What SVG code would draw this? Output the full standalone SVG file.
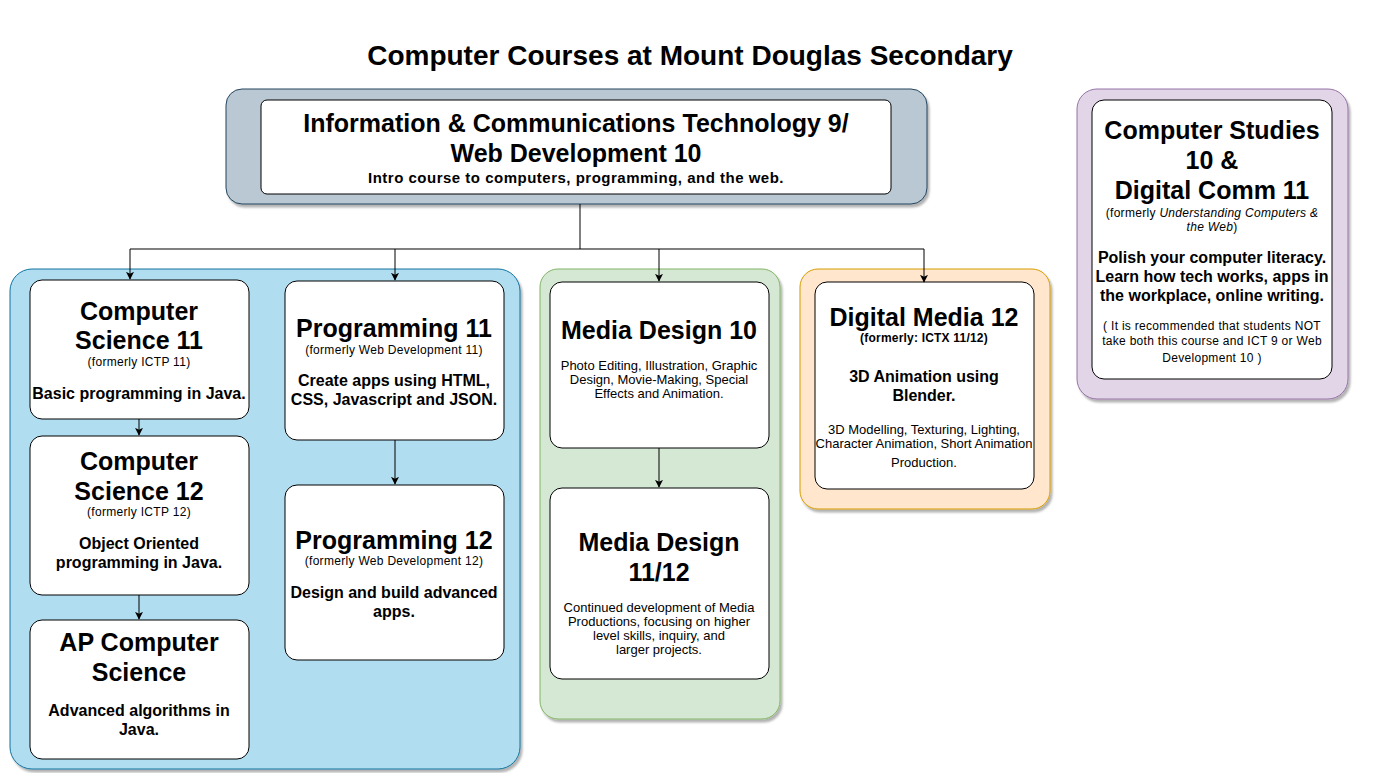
<svg xmlns="http://www.w3.org/2000/svg" width="1381" height="773" viewBox="0 0 1381 773">
<defs>
<filter id="sh" x="-5%" y="-5%" width="115%" height="115%"><feDropShadow dx="2" dy="3" stdDeviation="1.2" flood-color="#000" flood-opacity="0.3"/></filter>
<marker id="arr" viewBox="0 0 10 10" refX="9" refY="5" markerWidth="8" markerHeight="8" markerUnits="userSpaceOnUse" orient="auto"><path d="M0,0 L10,5 L0,10 L2.5,5 Z" fill="#000"/></marker>
</defs>
<style>
text{font-family:"Liberation Sans",Arial,sans-serif;fill:#000;text-anchor:middle}
.h{font-size:25px;font-weight:bold}
.t{font-size:28px;font-weight:bold}
.f{font-size:12px;letter-spacing:0.3px}
.fb{font-size:12px;font-weight:bold;letter-spacing:0.2px}
.d{font-size:16px;font-weight:bold}
.s{font-size:13px}
.c{fill:#fff;stroke:#000;stroke-width:1}
.conn{fill:none;stroke:#000;stroke-width:1}
</style>
<rect width="1381" height="773" fill="#fff"/>
<text class="t" x="690" y="65">Computer Courses at Mount Douglas Secondary</text>

<g id="ict">
<rect x="226" y="89" width="701" height="115" rx="16" fill="#bac8d3" stroke="#23445d" filter="url(#sh)"/>
<rect class="c" x="261" y="100" width="630" height="94" rx="6"/>
<text class="h" x="576" y="132">Information &amp; Communications Technology 9/</text>
<text class="h" x="576" y="162">Web Development 10</text>
<text x="576" y="183" style="font-size:15px;font-weight:bold;letter-spacing:0.5px">Intro course to computers, programming, and the web.</text>
</g>

<g id="cs-container">
<rect x="10" y="269" width="510" height="500" rx="22" fill="#b1ddf0" stroke="#10739e" filter="url(#sh)"/>
</g>
<g id="media-container">
<rect x="540" y="269" width="240" height="450" rx="18" fill="#d5e8d4" stroke="#82b366" filter="url(#sh)"/>
</g>
<g id="dm-container">
<rect x="800" y="269" width="250" height="240" rx="18" fill="#ffe6cc" stroke="#d79b00" filter="url(#sh)"/>
</g>

<g id="cs11">
<rect class="c" x="30" y="280" width="219" height="139" rx="12"/>
<text class="h" x="139" y="320">Computer</text>
<text class="h" x="139" y="349">Science 11</text>
<text class="f" x="139" y="366">(formerly ICTP 11)</text>
<text class="d" x="139" y="399">Basic programming in Java.</text>
</g>
<g id="cs12">
<rect class="c" x="30" y="436" width="219" height="159" rx="12"/>
<text class="h" x="139" y="470">Computer</text>
<text class="h" x="139" y="500">Science 12</text>
<text class="f" x="139" y="516">(formerly ICTP 12)</text>
<text class="d" x="139" y="549">Object Oriented</text>
<text class="d" x="139" y="568">programming in Java.</text>
</g>
<g id="ap">
<rect class="c" x="30" y="620" width="219" height="139" rx="12"/>
<text class="h" x="139" y="651">AP Computer</text>
<text class="h" x="139" y="681">Science</text>
<text class="d" x="139" y="716">Advanced algorithms in</text>
<text class="d" x="139" y="735">Java.</text>
</g>
<g id="prog11">
<rect class="c" x="285" y="281" width="219" height="159" rx="12"/>
<text class="h" x="394" y="337">Programming 11</text>
<text class="f" x="394" y="354">(formerly Web Development 11)</text>
<text class="d" x="394" y="386">Create apps using HTML,</text>
<text class="d" x="394" y="405">CSS, Javascript and JSON.</text>
</g>
<g id="prog12">
<rect class="c" x="285" y="485" width="219" height="175" rx="12"/>
<text class="h" x="394" y="549">Programming 12</text>
<text class="f" x="394" y="565">(formerly Web Development 12)</text>
<text class="d" x="394" y="598">Design and build advanced</text>
<text class="d" x="394" y="617">apps.</text>
</g>
<g id="md10">
<rect class="c" x="550" y="282" width="219" height="166" rx="12"/>
<text class="h" x="659" y="339">Media Design 10</text>
<text class="s" x="659" y="370">Photo Editing, Illustration, Graphic</text>
<text class="s" x="659" y="384">Design, Movie-Making, Special</text>
<text class="s" x="659" y="398">Effects and Animation.</text>
</g>
<g id="md1112">
<rect class="c" x="550" y="488" width="219" height="191" rx="12"/>
<text class="h" x="659" y="551">Media Design</text>
<text class="h" x="659" y="581">11/12</text>
<text class="s" x="659" y="612">Continued development of Media</text>
<text class="s" x="659" y="626">Productions, focusing on higher</text>
<text class="s" x="659" y="640">level skills, inquiry, and</text>
<text class="s" x="659" y="654">larger projects.</text>
</g>
<g id="dm12">
<rect class="c" x="815" y="282" width="219" height="207" rx="12"/>
<text class="h" x="924" y="326">Digital Media 12</text>
<text class="fb" x="924" y="342">(formerly: ICTX 11/12)</text>
<text x="924" y="382" style="font-size:16px;font-weight:bold">3D Animation using</text>
<text x="924" y="401" style="font-size:16px;font-weight:bold">Blender.</text>
<text class="s" x="924" y="434">3D Modelling, Texturing, Lighting,</text>
<text class="s" x="924" y="448">Character Animation, Short Animation</text>
<text class="s" x="924" y="467">Production.</text>
</g>
<g id="cst">
<rect x="1077" y="89" width="271" height="310" rx="20" fill="#e1d5e7" stroke="#9673a6" filter="url(#sh)"/>
<rect class="c" x="1092" y="100" width="240" height="279" rx="12"/>
<text class="h" x="1212" y="139">Computer Studies</text>
<text class="h" x="1212" y="169">10 &amp;</text>
<text class="h" x="1212" y="199">Digital Comm 11</text>
<text class="f" x="1212" y="217">(formerly <tspan font-style="italic">Understanding Computers &amp;</tspan></text>
<text class="f" x="1212" y="231"><tspan font-style="italic">the Web</tspan>)</text>
<text class="d" x="1212" y="263">Polish your computer literacy.</text>
<text class="d" x="1212" y="282">Learn how tech works, apps in</text>
<text class="d" x="1212" y="301">the workplace, online writing.</text>
<text class="f" x="1212" y="330">( It is recommended that students NOT</text>
<text class="f" x="1212" y="345">take both this course and ICT 9 or Web</text>
<text class="f" x="1212" y="362">Development 10 )</text>
</g>

<g id="connectors">
<path class="conn" d="M580,204 V249"/>
<path class="conn" d="M130,249 H924"/>
<path class="conn" d="M130,249 V279" marker-end="url(#arr)"/>
<path class="conn" d="M395,249 V280" marker-end="url(#arr)"/>
<path class="conn" d="M659,249 V281" marker-end="url(#arr)"/>
<path class="conn" d="M924,249 V282" marker-end="url(#arr)"/>
<path class="conn" d="M139,419 V435" marker-end="url(#arr)"/>
<path class="conn" d="M139,595 V619" marker-end="url(#arr)"/>
<path class="conn" d="M395,440 V484" marker-end="url(#arr)"/>
<path class="conn" d="M659,448 V487" marker-end="url(#arr)"/>
</g>
</svg>
